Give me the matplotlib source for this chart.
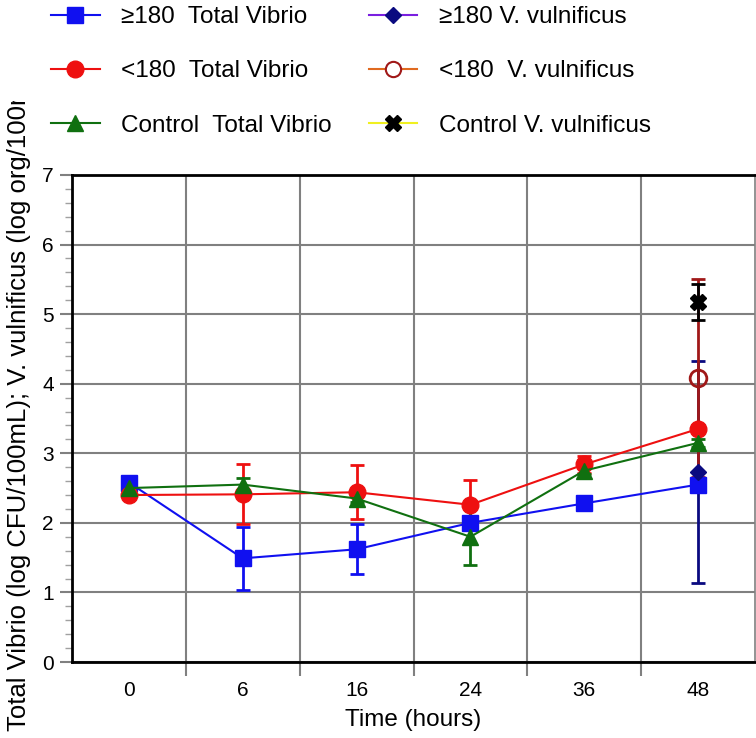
import numpy as np
import matplotlib.pyplot as plt
from matplotlib.patches import Rectangle
from matplotlib.lines import Line2D
from matplotlib.ticker import MultipleLocator, FixedLocator

plt.rcParams['font.family'] = ['Liberation Sans', 'DejaVu Sans']

# sampling times (hours)
hours = ['0', '6', '16', '24', '36', '48']

# Total Vibrio, log CFU/100mL
tv_ge180 = [2.58, 1.49, 1.62, 2.00, 2.28, 2.55]
tv_ge180_err = [0.04, 0.45, 0.36, 0.05, 0.04, 0.06]
tv_lt180 = [2.40, 2.41, 2.44, 2.26, 2.84, 3.35]
tv_lt180_err = [0.03, 0.43, 0.39, 0.35, 0.12, 0.05]
tv_ctrl = [2.50, 2.55, 2.35, 1.80, 2.75, 3.15]
tv_ctrl_err = [0.08, 0.09, 0.05, 0.41, 0.05, 0.06]

# V. vulnificus, log org/100mL (48 h only)
vv_hour = ['48']
vv_ge180 = [2.73]
vv_ge180_err = [1.59]
vv_lt180 = [4.08]
vv_lt180_err = [1.42]
vv_ctrl = [5.17]
vv_ctrl_err = [0.26]

fig = plt.figure(figsize=(7.56, 7.38), dpi=100)
ax = fig.add_axes([72 / 756, 1 - 662 / 738, 683 / 756, 487 / 738])

x = np.arange(len(hours))
xv = np.array([hours.index(h) for h in vv_hour])

eb = dict(lw=1.5, capsize=5, capthick=2, elinewidth=2)

ax.errorbar(x, tv_ge180, yerr=tv_ge180_err, color='#1010f0', marker='s', ms=11, **eb)
ax.errorbar(x, tv_lt180, yerr=tv_lt180_err, color='#ee1010', marker='o', ms=12, **eb)
ax.errorbar(x, tv_ctrl, yerr=tv_ctrl_err, color='#107010', marker='^', ms=12, **eb)
ax.errorbar(xv, vv_ge180, yerr=vv_ge180_err, color='#0a0a80', marker='D', ms=8, **eb)
ax.errorbar(xv, vv_lt180, yerr=vv_lt180_err, color='#a01818', marker='o', ms=12,
            mfc='none', mew=2, **eb)
ax.errorbar(xv, vv_ctrl, yerr=vv_ctrl_err, color='black', marker='X', ms=12, **eb)

ax.set_xlim(-0.5, 5.5)
ax.set_ylim(0, 7)
ax.set_xticks(x)
ax.set_xticklabels(hours, fontsize=15)
ax.xaxis.set_minor_locator(FixedLocator(np.arange(0.5, 5.0, 1.0)))
ax.tick_params(axis='x', which='major', length=0, pad=14)
ax.tick_params(axis='x', which='minor', length=10, width=1.5, color='#808080')
ax.yaxis.set_major_locator(MultipleLocator(1))
ax.yaxis.set_minor_locator(MultipleLocator(0.2))
ax.tick_params(axis='y', which='major', length=9, width=1.5, color='#808080',
               labelsize=15, pad=4)
ax.tick_params(axis='y', which='minor', length=5, width=1, color='#a0a0a0')

ax.grid(True, which='major', axis='y', color='#808080', lw=1.5)
ax.grid(True, which='minor', axis='x', color='#808080', lw=1.5)
ax.set_axisbelow(True)

for side in ['top', 'bottom', 'left']:
    ax.spines[side].set_linewidth(2)
    ax.spines[side].set_color('black')
ax.spines['right'].set_linewidth(1.2)
ax.spines['right'].set_color('#808080')

ax.set_xlabel('Time (hours)', fontsize=17.5, labelpad=6)
fig.text(19 / 756, 1 - 396 / 738,
         'Total Vibrio (log CFU/100mL); V. vulnificus (log org/100mL)',
         fontsize=18.5, rotation=90, ha='center', va='center', zorder=0.5)

# white strip over the top of the long y label, under the legend
fig.patches.append(Rectangle((0, 1 - 101 / 738), 1, 101 / 738, transform=fig.transFigure,
                             facecolor='white', edgecolor='none', zorder=1))

handles = [
    Line2D([], [], color='#1010f0', marker='s', ms=11, lw=1.5),
    Line2D([], [], color='#ee1010', marker='o', ms=12, lw=1.5),
    Line2D([], [], color='#107010', marker='^', ms=11, lw=1.5),
    Line2D([], [], color='#7a1fe0', marker='D', ms=8, mfc='#0a0a80', mec='#0a0a80', lw=1.5),
    Line2D([], [], color='#e06a20', marker='o', ms=11, mfc='white', mec='#a01818',
           mew=1.5, lw=1.5),
    Line2D([], [], color='#f0f020', marker='X', ms=11, mfc='black', mec='black', lw=1.5),
]
labels = ['≥180  Total Vibrio', '<180  Total Vibrio', 'Control  Total Vibrio',
          '≥180 V. vulnificus', '<180  V. vulnificus', 'Control V. vulnificus']

leg = fig.legend(handles, labels, ncol=2, frameon=False, loc='upper left',
                 bbox_to_anchor=(51 / 756, 1 - 6 / 738), borderaxespad=0, borderpad=0,
                 fontsize=17.5, handlelength=2.0, handletextpad=0.9,
                 labelspacing=1.33, columnspacing=1.5)
leg.set_zorder(2)

fig.savefig('out.png', dpi=100)
